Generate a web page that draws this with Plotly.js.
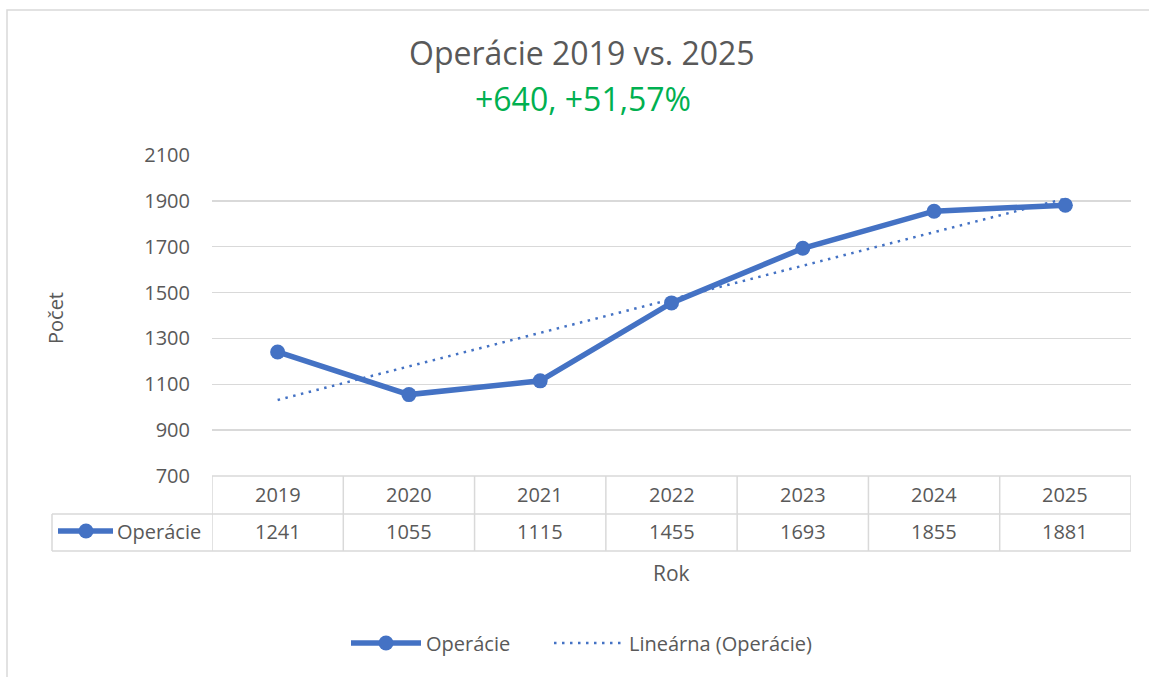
<!DOCTYPE html>
<html>
<head>
<meta charset="utf-8">
<script src="https://cdn.plot.ly/plotly-3.0.1.min.js"></script>
<style>
  html, body { margin: 0; padding: 0; background: #fff; }
  #chart { width: 1149px; height: 677px; }
</style>
</head>
<body>
<div id="chart"></div>
<script>
// ---- data ----
const years = [2019, 2020, 2021, 2022, 2023, 2024, 2025];
const operacie = [1241, 1055, 1115, 1455, 1693, 1855, 1881];
const seriesName = "Operácie";
const trendName = "Lineárna (Operácie)";
const titleText = "Operácie 2019 vs. 2025";
const subtitleText = "+640, +51,57%";
const xTitle = "Rok";
const yTitle = "Počet";

// ---- linear trendline (least squares, as Excel does) ----
const n = operacie.length;
const idx = operacie.map((_, i) => i + 1);
const mx = idx.reduce((a, b) => a + b, 0) / n;
const my = operacie.reduce((a, b) => a + b, 0) / n;
let sxy = 0, sxx = 0;
for (let i = 0; i < n; i++) { sxy += (idx[i] - mx) * (operacie[i] - my); sxx += (idx[i] - mx) ** 2; }
const slope = sxy / sxx, intercept = my - slope * mx;
const trend = idx.map(v => intercept + slope * v);

const BLUE = "#4472C4";
const GRID = "#D9D9D9";
const TXT = "#595959";
const FONT = "Open Sans, sans-serif";
const FS = 20;

// plot-area geometry helpers (paper fractions)
const L = 212, R = 18, T = 155, B = 201, W = 1149, H = 677;
const pw = W - L - R, ph = H - T - B;
const px = x => (x - L) / pw;
const py = y => (H - B - y) / ph;

const traces = [
  {
    x: years, y: operacie, name: seriesName, type: "scatter", mode: "lines+markers",
    line: { color: BLUE, width: 5.5 },
    marker: { color: BLUE, size: 15 },
    legend: "legend",
    hoverinfo: "x+y"
  },
  {
    x: years, y: trend, name: trendName, type: "scatter", mode: "lines",
    line: { color: BLUE, width: 2.5, dash: "2.5px,5.5px" },
    legend: "legend2",
    hoverinfo: "skip"
  }
];

const shapes = [];
// chart outer border
shapes.push({ type: "rect", xref: "paper", yref: "paper", x0: px(7), x1: px(1165), y0: py(690), y1: py(10),
  line: { color: GRID, width: 1.5 }, fillcolor: "rgba(0,0,0,0)", layer: "below" });
// data table horizontal lines
shapes.push({ type: "line", xref: "paper", yref: "paper", x0: 0, x1: 1, y0: 0, y1: 0, line: { color: GRID, width: 1.5 } });
shapes.push({ type: "line", xref: "paper", yref: "paper", x0: px(52), x1: 1, y0: py(514), y1: py(514), line: { color: GRID, width: 1.5 } });
shapes.push({ type: "line", xref: "paper", yref: "paper", x0: px(52), x1: 1, y0: py(551), y1: py(551), line: { color: GRID, width: 1.5 } });
// left key cell vertical
shapes.push({ type: "line", xref: "paper", yref: "paper", x0: px(52), x1: px(52), y0: py(514), y1: py(551), line: { color: GRID, width: 1.5 } });
// category boundaries
const bounds = years.map(y => y - 0.5).concat([years[years.length - 1] + 0.5]);
bounds.forEach(b => shapes.push({ type: "line", xref: "x", yref: "paper", x0: b, x1: b, y0: py(551), y1: 0,
  line: { color: GRID, width: 1.5 } }));
// legend key inside table
shapes.push({ type: "line", xref: "paper", yref: "paper", x0: px(58), x1: px(113), y0: py(531), y1: py(531),
  line: { color: BLUE, width: 5.5 } });
shapes.push({ type: "circle", xref: "paper", yref: "paper", xsizemode: "pixel", ysizemode: "pixel",
  xanchor: px(86), yanchor: py(531), x0: -7.5, x1: 7.5, y0: -7.5, y1: 7.5,
  fillcolor: BLUE, line: { color: BLUE, width: 0 } });

const annotations = [];
annotations.push({ text: titleText, xref: "paper", yref: "paper", x: px(582), y: py(53), xanchor: "center", yanchor: "middle",
  showarrow: false, font: { family: FONT, size: 32, color: TXT } });
annotations.push({ text: subtitleText, xref: "paper", yref: "paper", x: px(583), y: py(98), xanchor: "center", yanchor: "middle",
  showarrow: false, font: { family: FONT, size: 32, color: "#00B050" } });
years.forEach((yr, i) => {
  annotations.push({ text: String(yr), xref: "x", yref: "paper", x: yr, y: py(494), xanchor: "center", yanchor: "middle",
    showarrow: false, font: { family: FONT, size: FS, color: TXT } });
  annotations.push({ text: String(operacie[i]), xref: "x", yref: "paper", x: yr, y: py(531), xanchor: "center", yanchor: "middle",
    showarrow: false, font: { family: FONT, size: FS, color: TXT } });
});
annotations.push({ text: seriesName, xref: "paper", yref: "paper", x: px(115), y: py(531), xanchor: "left", yanchor: "middle",
  showarrow: false, font: { family: FONT, size: FS, color: TXT } });
annotations.push({ text: xTitle, xref: "paper", yref: "paper", x: 0.5, y: py(573), xanchor: "center", yanchor: "middle",
  showarrow: false, font: { family: FONT, size: 21, color: TXT } });
annotations.push({ text: yTitle, xref: "paper", yref: "paper", x: px(55), y: py(318), xanchor: "center", yanchor: "middle",
  textangle: -90, showarrow: false, font: { family: FONT, size: 20, color: TXT } });

const legendBase = { orientation: "h", xanchor: "left", y: py(643), yanchor: "middle",
  font: { family: FONT, size: FS, color: TXT }, itemwidth: 70, bgcolor: "rgba(0,0,0,0)" };

const layout = {
  width: W, height: H,
  margin: { l: L, r: R, t: T, b: B, pad: 0 },
  paper_bgcolor: "#ffffff", plot_bgcolor: "#ffffff",
  font: { family: FONT, color: TXT, size: FS },
  showlegend: true,
  legend: Object.assign({}, legendBase, { x: px(346) }),
  legend2: Object.assign({}, legendBase, { x: px(549) }),
  xaxis: { type: "linear", range: [years[0] - 0.5, years[years.length - 1] + 0.5], showticklabels: false,
    showgrid: false, zeroline: false, showline: false, ticks: "", fixedrange: true },
  yaxis: { range: [700, 2100], tick0: 700, dtick: 200, showgrid: true, gridcolor: GRID, gridwidth: 1.5,
    zeroline: false, showline: false, ticks: "", ticklabelstandoff: 21,
    tickfont: { family: FONT, size: FS, color: TXT }, fixedrange: true },
  shapes: shapes,
  annotations: annotations,
  hovermode: false
};

Plotly.newPlot("chart", traces, layout, { displayModeBar: false, staticPlot: true });
</script>
</body>
</html>
